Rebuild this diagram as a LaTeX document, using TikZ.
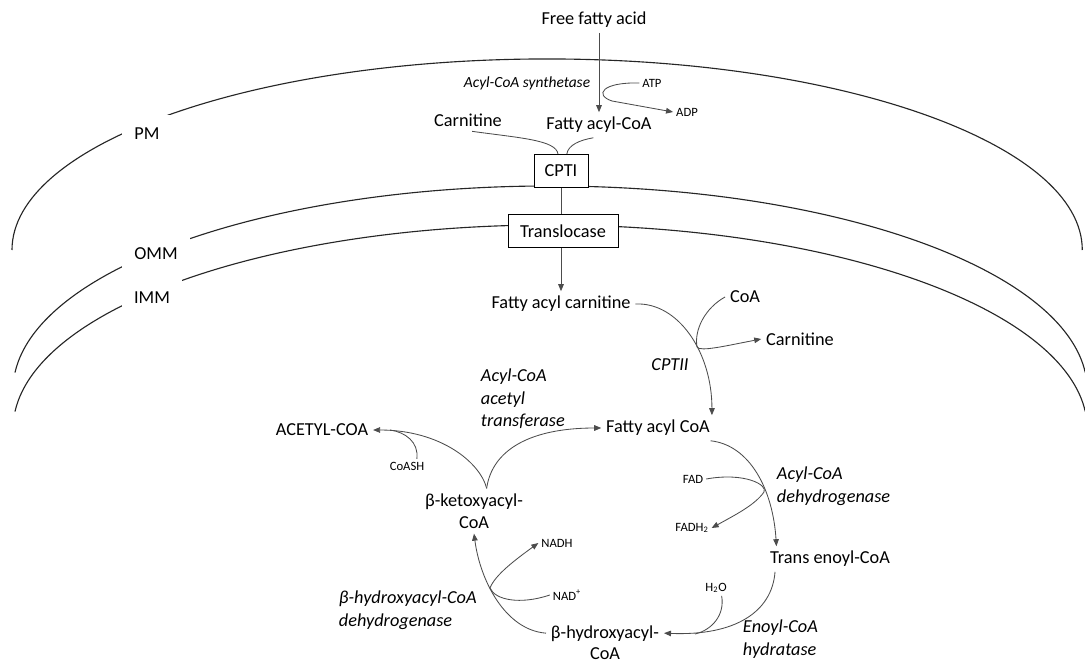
\documentclass[tikz,border=0pt]{standalone}
\usepackage{fontspec}
\setmainfont{Carlito}
\usetikzlibrary{arrows.meta}
\tikzset{>={Triangle[length=5pt, width=4pt]}}
\tikzset{
  chem/.style={font=\fontsize{13}{16}\selectfont, align=center},
  enzyme/.style={font=\fontsize{13}{16}\selectfont\itshape, align=left, anchor=west},
  cofactor/.style={font=\fontsize{9}{11}\selectfont, inner sep=2pt},
  memlabel/.style={fill=white, font=\fontsize{13}{16}\selectfont, inner xsep=0.3cm, minimum height=0.95cm},
  carrier/.style={draw, fill=white, line width=0.7pt, font=\fontsize{13}{16}\selectfont, minimum height=0.825cm},
  flow/.style={->, draw=black!70, line width=0.6pt},
  membrane/.style={line width=0.8pt, draw=black!85}
}

\begin{document}
\begin{tikzpicture}[x=0.025cm, y=-0.025cm]
\useasboundingbox (0,0) rectangle (1085,663);
\draw[membrane] (12,250) arc[start angle=180, end angle=0, x radius=13.375cm, y radius=4.775cm];
\draw[membrane] (15,372.5) arc[start angle=175.07, end angle=4.93, x radius=13.425cm, y radius=5.1cm];
\draw[membrane] (15,411.5) arc[start angle=175.07, end angle=4.93, x radius=13.425cm, y radius=5.1cm];
\node[memlabel] (pm) at (147,134) {PM};
\node[memlabel] (omm) at (156,254) {OMM};
\node[memlabel] (imm) at (152,298) {IMM};

\node[chem] (ffa) at (594,20) {Free fatty acid};
\node[chem] (facoa) at (599,125) {Fatty acyl-CoA};
\node[enzyme, anchor=center, font=\fontsize{11}{13}\selectfont\itshape] (synth) at (527,83) {Acyl-CoA synthetase};
\node[cofactor] (atp) at (652,83) {ATP};
\node[cofactor] (adp) at (687,112) {ADP};
\node[chem] (carn1) at (468,120) {Carnitine};
\node[carrier, minimum width=1.35cm] (cpt1) at (561,171) {CPTI};
\node[carrier, minimum width=2.75cm] (transloc) at (563,231) {Translocase};
\node[chem] (facarn) at (561,304) {Fatty acyl carnitine};
\node[chem] (coa) at (745,297) {CoA};
\node[chem] (carn2) at (800,339) {Carnitine};
\node[enzyme, anchor=center] (cpt2) at (670,365) {CPTII};
\node[chem] (facoa2) at (658,428) {Fatty acyl CoA};
\node[enzyme] (acdh) at (772,486) {Acyl-CoA\\dehydrogenase};
\node[cofactor] (fad) at (693,479) {FAD};
\node[cofactor] (fadh) at (692,528) {FADH\textsubscript{2}};
\node[chem] (tenoyl) at (830,559) {Trans enoyl-CoA};
\node[cofactor] (h2o) at (716,588) {H\textsubscript{2}O};
\node[enzyme] (ech) at (738,639) {Enoyl-CoA\\hydratase};
\node[chem, font=\fontsize{13}{15}\selectfont] (bhyd) at (605,643) {β-hydroxyacyl-\\CoA};
\node[enzyme] (hdh) at (334,610) {β-hydroxyacyl-CoA\\dehydrogenase};
\node[cofactor] (nad) at (567,595) {NAD\textsuperscript{+}};
\node[cofactor] (nadh) at (557,543) {NADH};
\node[chem] (bketo) at (474,511) {β-ketoxyacyl-\\CoA};
\node[chem] (acetyl) at (322,430) {ACETYL-COA};
\node[cofactor] (coash) at (407,466) {CoASH};
\node[enzyme] (act) at (476,399) {Acyl-CoA\\acetyl\\transferase};

\coordinate (jatp) at (612,101);
\coordinate (jcpt) at (697,347);
\coordinate (jfad) at (764,492);
\coordinate (jh2o) at (695,634);
\coordinate (jnad) at (490,588);
\coordinate (jcoash) at (390,430);

\draw[flow] (ffa.south -| facoa.north) -- (facoa.north);
\draw[flow] (atp.west) .. controls (602,82) and (594,95) .. (jatp) -- (adp.west);
\draw[flow, -] ([xshift=3pt]carn1.south) .. controls (520,138) and (556,140) .. (cpt1.100);
\draw[flow, -] ([xshift=-4pt]facoa.south) .. controls (580,140) and (568,145) .. (cpt1.71);
\draw[flow, -] (cpt1.south) -- (cpt1.south |- transloc.north);
\draw[flow] (transloc.south -| facarn.north) -- (facarn.north);

\draw[flow] (facarn.east) .. controls (678,302) and (712,352) .. ([xshift=-2pt]facoa2.north east);
\draw[flow] (coa.west) .. controls (705,308) and (694,330) .. (jcpt) .. controls (700,352) and (725,346) .. (carn2.west);

\draw[flow] ([xshift=-3pt]facoa2.south east) .. controls (750,445) and (773,490) .. ([xshift=8pt]tenoyl.north west);
\draw[flow] (fad.east) .. controls (745,472) and (768,485) .. (jfad) .. controls (755,505) and (735,515) .. (fadh.east);

\draw[flow] ([xshift=7pt]tenoyl.south west) .. controls (772,612) and (735,636) .. ([yshift=7pt]bhyd.east);
\draw[flow, -] ([xshift=4pt]h2o.south) .. controls (725,615) and (712,630) .. (jh2o);

\draw[flow] ([yshift=7pt]bhyd.west) .. controls (505,630) and (480,580) .. (bketo.south);
\draw[flow] (nad.west) .. controls (520,605) and (495,600) .. (jnad) .. controls (495,575) and (515,560) .. (nadh.west);

\draw[flow] ([xshift=9pt]bketo.north) .. controls (480,462) and (440,430) .. (acetyl.east);
\draw[flow] ([xshift=9pt]bketo.north) .. controls (492,450) and (530,428) .. (facoa2.west);
\draw[flow, -] ([xshift=7pt]coash.north) .. controls (419,442) and (405,432) .. (jcoash);
\end{tikzpicture}
\end{document}
